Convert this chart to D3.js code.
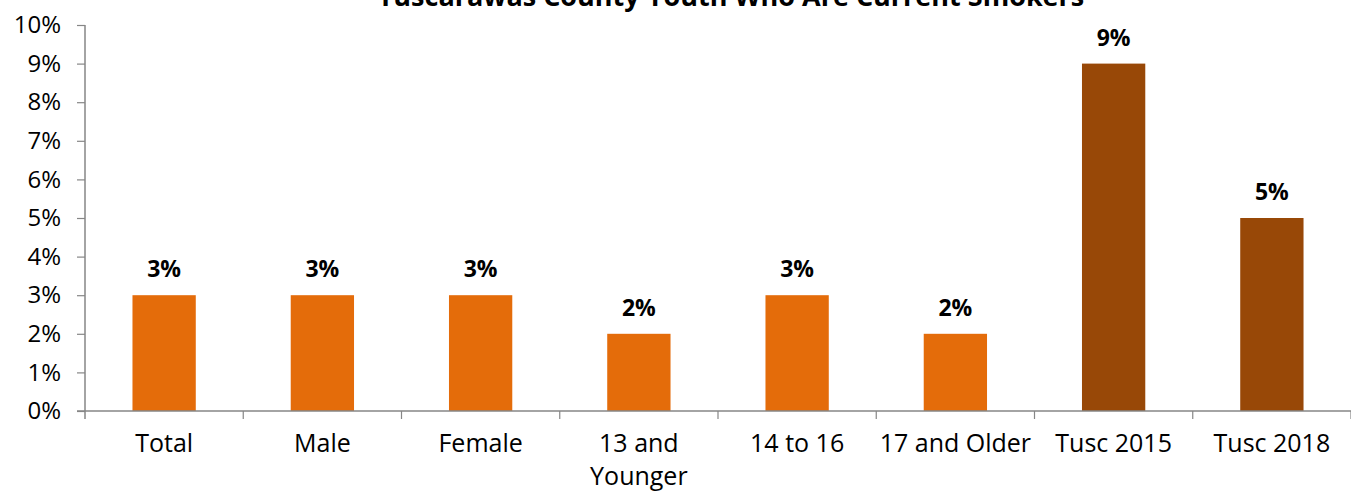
<!DOCTYPE html>
<html><head><meta charset="utf-8">
<script src="https://cdn.jsdelivr.net/npm/d3@7"></script>
<style>body{margin:0;background:#fff}svg{display:block}text{font-family:"Open Sans","Noto Sans",sans-serif}</style>
</head><body><svg id="c" width="1351" height="493"></svg>
<script>
const categories = ["Total","Male","Female","13 and Younger","14 to 16","17 and Older","Tusc 2015","Tusc 2018"];
const values = [3,3,3,2,3,2,9,5];
const groups = ["county","county","county","county","county","county","history","history"];
const yTicks = [0,1,2,3,4,5,6,7,8,9,10];
const title = "Tuscarawas County Youth Who Are Current Smokers";

const svg = d3.select("#c");
const x = d3.scaleBand().domain(categories).range([85,1351]).padding(0);
const y = d3.scaleLinear().domain([0,10]).range([411,25]);
const color = d3.scaleOrdinal().domain(["county","history"]).range(["#E46C0A","#984807"]);
const axisColor = "#868686";

svg.append("text").attr("x",731).attr("y",6).attr("text-anchor","middle")
  .attr("font-size",27).attr("font-weight","bold").attr("fill","#000").text(title);

const bw = x.bandwidth()*0.4;
svg.selectAll("rect.bar").data(categories).join("rect")
  .attr("x",d=>x(d)+x.bandwidth()/2-bw/2).attr("width",bw)
  .attr("y",(d,i)=>y(values[i])).attr("height",(d,i)=>y(0)-y(values[i]))
  .attr("fill",(d,i)=>color(groups[i]));

svg.selectAll("text.lab").data(categories).join("text")
  .attr("x",d=>x(d)+x.bandwidth()/2).attr("y",(d,i)=>y(values[i])-18)
  .attr("text-anchor","middle").attr("font-size",23).attr("font-weight","bold")
  .text((d,i)=>values[i]+"%");

// y axis
const ya = svg.append("g").attr("transform","translate(85,0)")
  .call(d3.axisLeft(y).tickValues(yTicks).tickFormat(d=>d+"%").tickSize(8).tickSizeOuter(0));
ya.select(".domain").attr("stroke",axisColor).attr("stroke-width",1.5).attr("d","M0,25V419");
ya.selectAll(".tick line").attr("stroke",axisColor).attr("stroke-width",1.2);
ya.selectAll(".tick text").attr("font-size",24).attr("fill","#000").attr("x",-24)
  .attr("font-family","'Open Sans','Noto Sans',sans-serif");

// x axis
const xa = svg.append("g").attr("transform","translate(0,411)");
xa.append("line").attr("x1",77).attr("x2",1351).attr("y1",0).attr("y2",0).attr("stroke",axisColor).attr("stroke-width",1.5);
const bounds = categories.slice(1).map(c=>x(c)).concat([x.range()[1]]);
xa.selectAll("line.t").data(bounds).join("line").attr("x1",d=>d).attr("x2",d=>d)
  .attr("y1",0).attr("y2",8).attr("stroke",axisColor).attr("stroke-width",1.2);
const wrap = {"13 and Younger":["13 and","Younger"]};
categories.forEach(c=>{
  const lines = wrap[c]||[c];
  const t = xa.append("text").attr("x",x(c)+x.bandwidth()/2).attr("y",41)
    .attr("text-anchor","middle").attr("font-size",25).attr("fill","#000");
  lines.forEach((l,i)=>t.append("tspan").attr("x",x(c)+x.bandwidth()/2).attr("dy",i?33:0).text(l));
});
</script></body></html>
